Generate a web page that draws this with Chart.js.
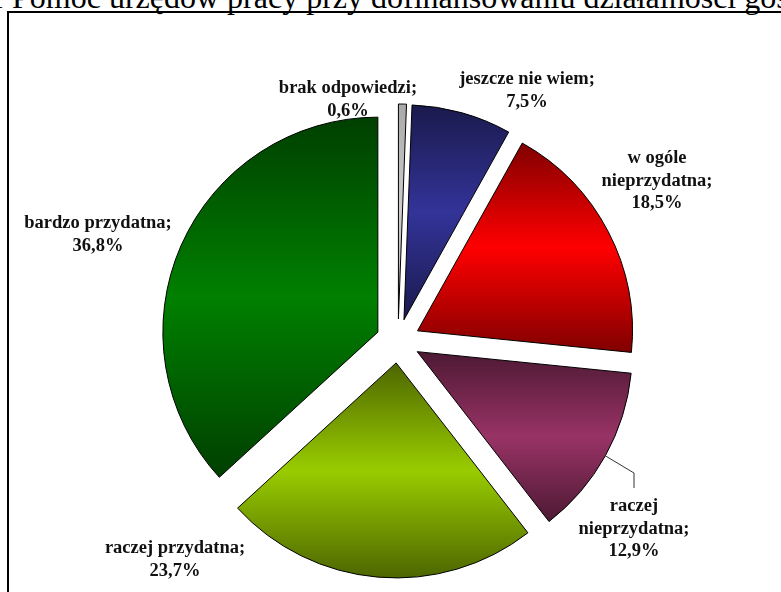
<!DOCTYPE html>
<html lang="pl">
<head>
<meta charset="UTF-8" />
<title>Pomoc urzędów pracy przy dofinansowaniu działalności gospodarczej</title>
<script src="https://cdn.jsdelivr.net/npm/chart.js"></script>
<style>
  html, body {
    margin: 0;
    padding: 0;
    background: #fff;
    width: 781px;
    height: 592px;
    overflow: hidden;
    position: relative;
  }
  .title {
    position: absolute;
    left: -12px;
    top: -19px;
    font-family: "Liberation Serif", "Times New Roman", serif;
    font-size: 32px;
    line-height: 32px;
    white-space: nowrap;
    color: #000;
  }
  .frame {
    position: absolute;
    left: 7px;
    top: 11px;
    width: 800px;
    height: 600px;
    border: 2px solid #000;
  }
  #pieChart {
    position: absolute;
    left: 0;
    top: 0;
  }
</style>
</head>
<body>
<div class="title">1 Pomoc urzędów pracy przy dofinansowaniu działalności gospodarczej</div>
<div class="frame"></div>
<canvas id="pieChart" width="781" height="592"></canvas>

<script>
  // answers, clockwise from 12 o'clock
  const categories = [
    "brak odpowiedzi",
    "jeszcze nie wiem",
    "w ogóle nieprzydatna",
    "raczej nieprzydatna",
    "raczej przydatna",
    "bardzo przydatna",
  ];
  const shares = [0.6, 7.5, 18.5, 12.9, 23.7, 36.8];
  const labelLines = [
    ["brak odpowiedzi;"],
    ["jeszcze nie wiem;"],
    ["w ogóle", "nieprzydatna;"],
    ["raczej", "nieprzydatna;"],
    ["raczej przydatna;"],
    ["bardzo przydatna;"],
  ];

  // [edge, centre] colour of each slice's vertical gradient
  const sliceColors = [
    ["#a9a9a9", "#cdcdcd"],
    ["#1a1a4d", "#333399"],
    ["#800000", "#ff0000"],
    ["#4d1933", "#993366"],
    ["#4d6600", "#99cc00"],
    ["#003f00", "#008000"],
  ];

  // label centre x and first baseline y
  const labelAnchors = [[348, 93], [527, 84], [657, 163], [634, 511], [175, 553], [98, 228]];
  const leaders = { 3: [[634, 473], [634, 488]] };

  const EXPLODE = 22;
  const LINE_H = 22.5;

  function verticalExtent(arc) {
    const { x, y, startAngle, endAngle, outerRadius } = arc;
    const ys = [y, y + outerRadius * Math.sin(startAngle), y + outerRadius * Math.sin(endAngle)];
    [-Math.PI / 2, Math.PI / 2, (3 * Math.PI) / 2].forEach((a) => {
      if (a > startAngle && a < endAngle) ys.push(y + outerRadius * Math.sin(a));
    });
    return [Math.min(...ys), Math.max(...ys)];
  }

  function shift(arc) {
    const mid = (arc.startAngle + arc.endAngle) / 2;
    return [Math.cos(mid) * EXPLODE, Math.sin(mid) * EXPLODE];
  }

  // pulls every slice out from the centre and fills it with a dark-light-dark band
  const explodedSlices = {
    id: "explodedSlices",
    beforeDatasetDraw(chart, args) {
      const ctx = chart.ctx;
      args.meta.data.forEach((arc, i) => {
        const [dx, dy] = shift(arc);
        const [top, bottom] = verticalExtent(arc);
        const grad = ctx.createLinearGradient(0, top, 0, bottom);
        grad.addColorStop(0, sliceColors[i][0]);
        grad.addColorStop(0.5, sliceColors[i][1]);
        grad.addColorStop(1, sliceColors[i][0]);

        ctx.save();
        ctx.translate(dx, dy);
        const saved = arc.options;
        arc.options = Object.assign({}, saved, { backgroundColor: grad });
        arc.draw(ctx);
        arc.options = saved;
        ctx.restore();
      });
      return false;
    },
  };

  const sliceLabels = {
    id: "sliceLabels",
    afterDatasetsDraw(chart) {
      const ctx = chart.ctx;
      const arcs = chart.getDatasetMeta(0).data;
      ctx.save();
      ctx.font = 'bold 18.5px "Liberation Serif", "Times New Roman", serif';
      ctx.fillStyle = "#111";
      ctx.textAlign = "center";
      ctx.textBaseline = "alphabetic";
      shares.forEach((v, i) => {
        const lines = labelLines[i].concat([v.toFixed(1).replace(".", ",") + "%"]);
        const [lx, ly] = labelAnchors[i];
        lines.forEach((t, k) => ctx.fillText(t, lx, ly + k * LINE_H));

        if (leaders[i]) {
          const arc = arcs[i];
          const [dx, dy] = shift(arc);
          const mid = (arc.startAngle + arc.endAngle) / 2;
          ctx.beginPath();
          ctx.moveTo(arc.x + dx + Math.cos(mid) * arc.outerRadius, arc.y + dy + Math.sin(mid) * arc.outerRadius);
          leaders[i].forEach(([px, py]) => ctx.lineTo(px, py));
          ctx.strokeStyle = "#333";
          ctx.lineWidth = 1;
          ctx.stroke();
        }
      });
      ctx.restore();
    },
  };

  new Chart(document.getElementById("pieChart"), {
    type: "pie",
    data: {
      labels: categories,
      datasets: [
        {
          data: shares,
          backgroundColor: sliceColors.map((c) => c[1]),
          borderColor: "#000",
          borderWidth: 1,
          borderJoinStyle: "miter",
          offset: 0,
        },
      ],
    },
    options: {
      responsive: false,
      animation: false,
      events: [],
      radius: 215,
      layout: { padding: { left: 15, right: 0, top: 90, bottom: 0 } },
      plugins: {
        legend: { display: false },
        tooltip: { enabled: false },
      },
    },
    plugins: [explodedSlices, sliceLabels],
  });
</script>
</body>
</html>
